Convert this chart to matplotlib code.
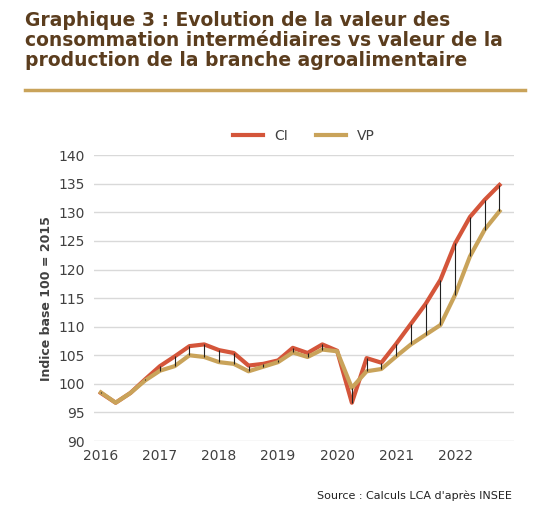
import numpy as np
import matplotlib.pyplot as plt

# Données trimestrielles 2016T1 - 2022T4 (indice base 100 = 2015)
ci = [98.4, 96.7, 98.4, 100.8, 103.1, 104.8, 106.6, 106.9, 105.9, 105.4, 103.2, 103.5,
      104.1, 106.3, 105.4, 106.9, 105.8, 96.7, 104.5, 103.7, 107.0, 110.5, 114.0, 118.2,
      124.6, 129.2, 132.2, 134.8]
vp = [98.5, 96.7, 98.4, 100.6, 102.3, 103.1, 105.0, 104.7, 103.8, 103.5, 102.2, 103.0,
      103.8, 105.5, 104.7, 106.0, 105.7, 99.3, 102.2, 102.6, 104.8, 106.9, 108.6, 110.3,
      115.6, 122.3, 127.0, 130.2]
years = ['2016', '2017', '2018', '2019', '2020', '2021', '2022']

x = np.arange(len(ci))

fig = plt.figure(figsize=(5.5, 5.14), dpi=100)
fig.text(0.045, 0.978,
         "Graphique 3 : Evolution de la valeur des\nconsommation intermédiaires vs valeur de la\nproduction de la branche agroalimentaire",
         fontsize=13.5, fontweight='bold', color='#5b3d1e', va='top', ha='left', linespacing=1.05)
fig.add_artist(plt.Line2D([0.045, 0.955], [0.825, 0.825], color='#c9a35a', lw=2.5))

ax = fig.add_axes([0.17, 0.142, 0.765, 0.556])
ax.plot(x, ci, color='#d4553a', lw=3, label='CI', zorder=2)
ax.plot(x, vp, color='#c9a35a', lw=3, label='VP', zorder=3)
ax.vlines(x, np.minimum(ci, vp), np.maximum(ci, vp), color='#222222', lw=0.8, zorder=4)

ax.set_ylim(90, 140)
ax.set_yticks(np.arange(90, 141, 5))
ax.set_xlim(-0.5, 28)
ax.set_xticks(np.arange(0, 28, 4))
ax.set_xticklabels(years)
ax.grid(axis='y', color='#d9d9d9', lw=1)
ax.set_axisbelow(True)
for s in ax.spines.values():
    s.set_visible(False)
ax.tick_params(length=0, labelsize=10, colors='#404040', pad=6)
ax.set_ylabel("Indice base 100 = 2015", fontsize=9, fontweight='bold', color='#404040')
ax.legend(loc='lower center', bbox_to_anchor=(0.5, 1.0), ncol=2, frameon=False,
          fontsize=10, handlelength=2.2, labelcolor='#404040')

fig.text(0.93, 0.03, "Source : Calculs LCA d'après INSEE", fontsize=8, ha='right', color='#222222')

fig.savefig('out.png', dpi=100)
